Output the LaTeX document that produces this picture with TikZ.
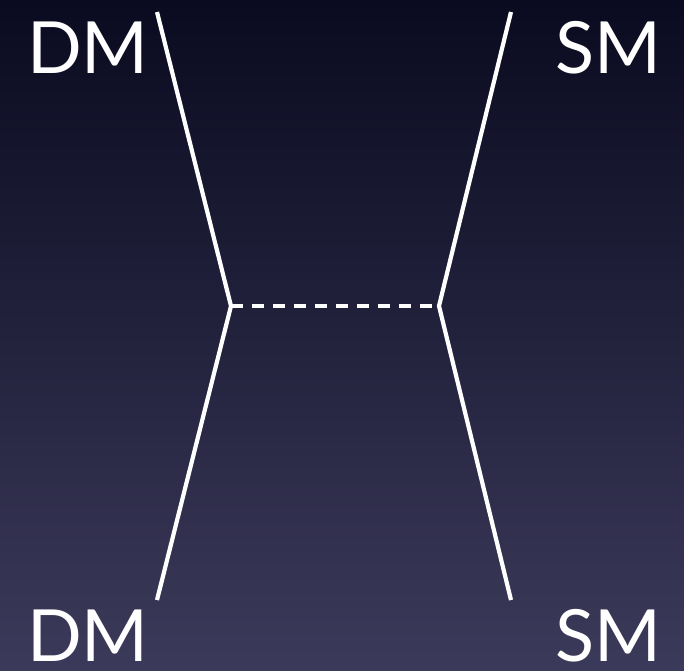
\documentclass[tikz,border=0pt]{standalone}
\usepackage{fontspec}
\setmainfont{Lato}
\begin{document}
\begin{tikzpicture}[x=1pt,y=-1pt,
  leg/.style={draw=white,line width=4.2pt,line cap=butt},
  prop/.style={draw=white,line width=4.2pt,dash pattern=on 12pt off 9pt},
  lbl/.style={text=white,font=\fontsize{72}{72}\selectfont,inner sep=0pt,text depth=0pt,anchor=base west}]
\shade[top color={rgb,255:red,10;green,10;blue,32},bottom color={rgb,255:red,60;green,58;blue,90}] (0,0) rectangle (684,670);
\useasboundingbox (0,0) rectangle (684,670);
\coordinate (tl) at (157,12);
\coordinate (bl) at (157,600);
\coordinate (tr) at (511,12);
\coordinate (br) at (511,600);
\coordinate (vl) at (231,306);
\coordinate (vr) at (439,306);
\draw[leg] (tl) -- (vl) -- (bl);
\draw[leg] (tr) -- (vr) -- (br);
\draw[prop] (vl) -- (vr);
\node[lbl] (dm1) at (27,73) {DM};
\node[lbl] (sm1) at (555,73) {SM};
\node[lbl] (dm2) at (27,661) {DM};
\node[lbl] (sm2) at (555,661) {SM};
\end{tikzpicture}
\end{document}
